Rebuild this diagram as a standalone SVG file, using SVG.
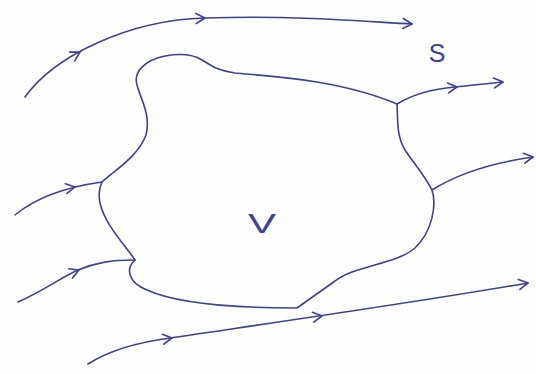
<svg xmlns="http://www.w3.org/2000/svg" width="536" height="374" viewBox="0 0 536 374">
  <style>
    .ink { fill: none; stroke: #3f418f; stroke-width: 1.6; stroke-linecap: round; stroke-linejoin: round; }
    .lbl { fill: #3f418f; font-family: "Liberation Sans", Arial, sans-serif; }
  </style>
  <defs>
    <path id="chev" class="ink" d="M-9,-5 L0,0 L-9,5"/>
  </defs>
  <rect width="536" height="374" fill="#fdfdfb"/>

  <g id="volume">
    <path class="ink" d="M137,85 C133,72 145,60 165,56 C182,53 194,55 202,60 C212,66 218,71 235,73 C285,77 345,82 397,104 C398,118 396,135 405,150 C415,165 425,176 432,190 C437,205 432,232 415,248 C395,265 355,265 335,281 L297,308 C250,308 180,305 147,290 C127,282 126,268 135,260 C125,245 105,225 100,203 C98,193 100,186 102,182 C118,168 138,156 146,135 C151,115 141,100 137,85 Z"/>
    <text class="lbl" font-size="28" text-anchor="middle" transform="translate(262,233) scale(1.5,1)">V</text>
  </g>

  <g id="surface-label">
    <text class="lbl" font-size="25" text-anchor="middle" x="437" y="62">S</text>
  </g>

  <g id="connectors">
    <path class="ink" d="M25,97 C55,55 130,20 205,18 C300,15 370,22 412,24"/>
    <use href="#chev" transform="translate(80,52) rotate(-30)"/>
    <use href="#chev" transform="translate(205,18) rotate(-3)"/>
    <use href="#chev" transform="translate(412,24) rotate(3)"/>

    <path class="ink" d="M397,104 Q420,90 455,87 L503,82"/>
    <use href="#chev" transform="translate(457,87) rotate(-6)"/>
    <use href="#chev" transform="translate(503,82) rotate(-6)"/>

    <path class="ink" d="M432,190 Q470,166 533,157"/>
    <use href="#chev" transform="translate(533,157) rotate(-8)"/>

    <path class="ink" d="M15,215 Q45,190 102,182"/>
    <use href="#chev" transform="translate(75,187) rotate(-10)"/>

    <path class="ink" d="M18,302 C45,290 60,278 78,270 C95,263 110,260 135,260"/>
    <use href="#chev" transform="translate(79,270) rotate(-22)"/>

    <path class="ink" d="M88,364 C110,350 140,342 170,338 C250,326 400,305 528,283"/>
    <use href="#chev" transform="translate(172,338) rotate(-8)"/>
    <use href="#chev" transform="translate(322,316) rotate(-8)"/>
    <use href="#chev" transform="translate(528,283) rotate(-9)"/>
  </g>
</svg>
